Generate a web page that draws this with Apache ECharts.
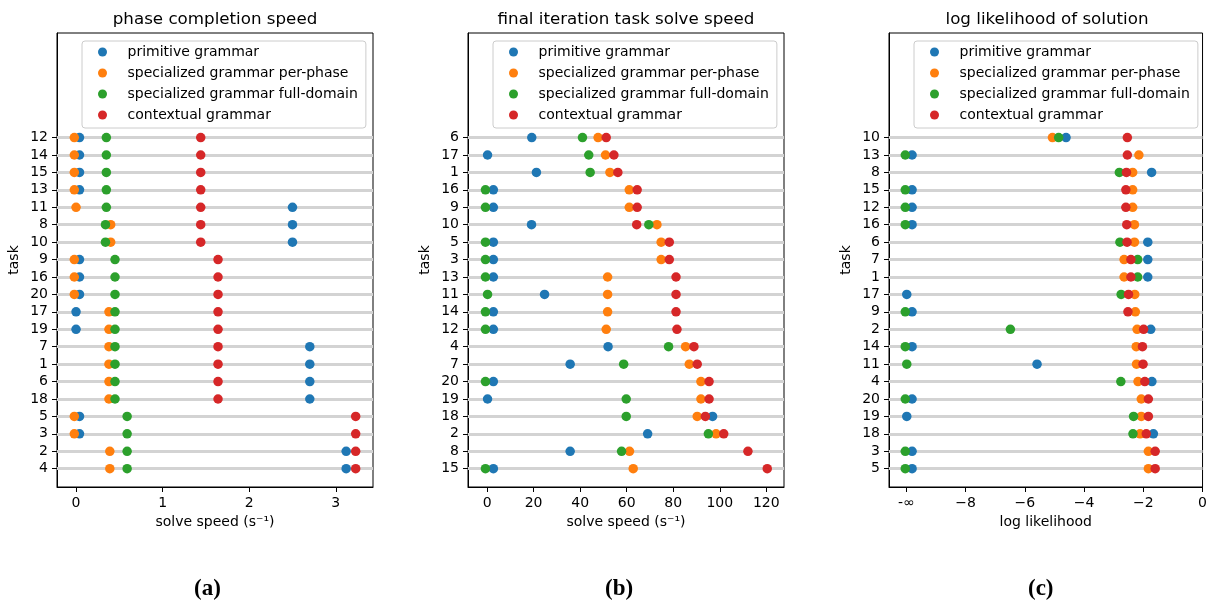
<!DOCTYPE html>
<html>
<head>
<meta charset="utf-8">
<script src="https://cdn.jsdelivr.net/npm/echarts@6/dist/echarts.min.js"></script>
<style>
html, body { margin: 0; padding: 0; background: #fff; }
#chart { width: 1210px; height: 601px; }
</style>
</head>
<body>
<div id="chart"></div>
<script>
var seriesNames = ['primitive grammar', 'specialized grammar per-phase', 'specialized grammar full-domain', 'contextual grammar'];
var colors = ['#1f77b4', '#ff7f0e', '#2ca02c', '#d62728'];

// (a) phase completion speed
var tasksA = ['12','14','15','13','11','8','10','9','16','20','17','19','7','1','6','18','5','3','2','4'];
var primitiveA  = [0.04,0.04,0.04,0.04,2.50,2.50,2.50,0.04,0.04,0.04,0.00,0.00,2.70,2.70,2.70,2.70,0.04,0.04,3.12,3.12];
var perPhaseA   = [-0.02,-0.02,-0.02,-0.02,0.00,0.40,0.40,-0.02,-0.02,-0.02,0.38,0.38,0.38,0.38,0.38,0.38,-0.02,-0.02,0.39,0.39];
var fullDomainA = [0.35,0.35,0.35,0.35,0.35,0.34,0.34,0.45,0.45,0.45,0.45,0.45,0.45,0.45,0.45,0.45,0.59,0.59,0.59,0.59];
var contextualA = [1.44,1.44,1.44,1.44,1.44,1.44,1.44,1.64,1.64,1.64,1.64,1.64,1.64,1.64,1.64,1.64,3.23,3.23,3.23,3.23];
var ticksA = [0, 1, 2, 3];

// (b) final iteration task solve speed
var tasksB = ['6','17','1','16','9','10','5','3','13','11','14','12','4','7','20','19','18','2','8','15'];
var primitiveB  = [19.2,0.2,21.2,2.7,2.7,19.1,2.7,2.7,2.7,24.7,2.7,2.7,52.0,35.7,2.7,0.2,96.9,69.0,35.7,2.7];
var perPhaseB   = [47.7,50.9,52.8,61.1,61.1,73.0,74.8,74.8,51.8,51.8,51.8,51.2,85.3,86.9,91.9,91.9,90.3,98.4,61.2,62.8];
var fullDomainB = [41.0,43.7,44.3,-0.7,-0.7,69.5,-0.7,-0.7,-0.7,0.2,-0.7,-0.7,78.0,58.7,-0.7,59.8,59.8,95.1,57.8,-0.7];
var contextualB = [51.2,54.5,56.2,64.5,64.5,64.3,78.3,78.3,81.2,81.2,81.2,81.6,88.9,90.3,95.4,95.4,93.8,101.7,112.1,120.4];
var ticksB = [0, 20, 40, 60, 80, 100, 120];

// (c) log likelihood of solution, -10 stands for -inf
var tasksC = ['10','13','8','15','12','16','6','7','1','17','9','2','14','11','4','20','19','18','3','5'];
var primitiveC  = [-4.61,-9.81,-1.72,-9.81,-9.81,-9.81,-1.85,-1.85,-1.85,-9.99,-9.81,-1.75,-9.81,-5.59,-1.71,-9.81,-9.99,-1.66,-9.81,-9.81];
var perPhaseC   = [-5.07,-2.15,-2.36,-2.36,-2.36,-2.30,-2.30,-2.65,-2.65,-2.29,-2.27,-2.21,-2.24,-2.23,-2.18,-2.07,-2.07,-2.11,-1.83,-1.83];
var fullDomainC = [-4.86,-10.04,-2.81,-10.04,-10.04,-10.04,-2.79,-2.19,-2.19,-2.75,-10.04,-6.49,-10.04,-9.99,-2.76,-10.04,-2.33,-2.35,-10.04,-10.04];
var contextualC = [-2.54,-2.54,-2.57,-2.59,-2.59,-2.56,-2.55,-2.42,-2.42,-2.50,-2.52,-1.99,-2.03,-2.01,-1.95,-1.83,-1.83,-1.90,-1.60,-1.60];
var ticksC = [-10, -8, -6, -4, -2, 0];
var ticksCLabels = ['-\u221e', '\u22128', '\u22126', '\u22124', '\u22122', '0'];

var panels = [
    {title: 'phase completion speed', tasks: tasksA, values: [primitiveA, perPhaseA, fullDomainA, contextualA],
     xmin: -0.22, xmax: 3.43, ticks: ticksA, xname: 'solve speed (s\u207b\u00b9)', left: 57, sub: '(a)', subX: 210},
    {title: 'final iteration task solve speed', tasks: tasksB, values: [primitiveB, perPhaseB, fullDomainB, contextualB],
     xmin: -8.2, xmax: 127.6, ticks: ticksB, xname: 'solve speed (s\u207b\u00b9)', left: 468, sub: '(b)', subX: 621},
    {title: 'log likelihood of solution', tasks: tasksC, values: [primitiveC, perPhaseC, fullDomainC, contextualC],
     xmin: -10.59, xmax: 0, ticks: ticksC, xname: 'log likelihood', left: 889, sub: '(c)', subX: 1044,
     labelFn: function (v) { return ticksCLabels[ticksC.indexOf(v)]; }}
];

var FONT = 'DejaVu Sans';
var W = 316, TOP = 33, H = 454;

var grid = [], xAxis = [], yAxis = [], series = [], title = [], legend = [], graphic = [];

panels.forEach(function (p, k) {
    var rows = p.tasks.map(function (t, i) { return i; });
    grid.push({left: p.left, top: TOP, width: W, height: H, show: true, borderColor: '#000', borderWidth: 1, backgroundColor: '#fff'});
    title.push({
        text: p.title, left: p.left + W / 2, top: 11, textAlign: 'center', padding: 0,
        textStyle: {fontFamily: FONT, fontSize: 16.7, fontWeight: 'normal', color: '#000'}
    });
    xAxis.push({
        type: 'value', gridIndex: k, min: p.xmin, max: p.xmax, position: 'bottom',
        name: p.xname, nameLocation: 'middle', nameGap: 28,
        nameTextStyle: {fontFamily: FONT, fontSize: 14, color: '#000'},
        axisLine: {show: true, onZero: false, lineStyle: {color: '#000', width: 1}},
        axisTick: {show: true, length: 5, lineStyle: {color: '#000'}, customValues: p.ticks},
        axisLabel: {fontFamily: FONT, fontSize: 14, color: '#000', margin: 9, customValues: p.ticks,
            formatter: p.labelFn || function (v) { return String(v); }},
        splitLine: {show: false}
    });
    yAxis.push({
        type: 'value', gridIndex: k, inverse: true, min: -6, max: 20.05, position: 'left',
        name: 'task', nameLocation: 'middle', nameGap: 36,
        nameTextStyle: {fontFamily: FONT, fontSize: 14, color: '#000'},
        axisLine: {show: true, onZero: false, lineStyle: {color: '#000', width: 1}},
        axisTick: {show: true, length: 5, lineStyle: {color: '#000'}, customValues: rows},
        axisLabel: {fontFamily: FONT, fontSize: 14, color: '#000', margin: 9, customValues: rows,
            formatter: function (v) { return p.tasks[v]; }},
        splitLine: {show: false}
    });
    // grey row lines
    series.push({
        type: 'scatter', xAxisIndex: k, yAxisIndex: k, data: [], silent: true, z: 1,
        markLine: {
            silent: true, z: 1, symbol: ['none', 'none'], label: {show: false},
            lineStyle: {color: '#d3d3d3', width: 3, type: 'solid'},
            emphasis: {disabled: true},
            data: rows.map(function (i) { return {yAxis: i}; })
        }
    });
    p.values.forEach(function (vals, j) {
        series.push({
            name: seriesNames[j], type: 'scatter', xAxisIndex: k, yAxisIndex: k,
            symbol: 'circle', symbolSize: 9.5, z: 10 + j,
            itemStyle: {color: colors[j], opacity: 1},
            data: vals.map(function (v, i) { return [v, i]; })
        });
    });
    legend.push({
        data: seriesNames, orient: 'vertical', left: p.left + 25, top: 41,
        icon: 'circle', itemWidth: 28, itemHeight: 9, itemGap: 5, selectedMode: false,
        padding: [3, 8, 5, 16], borderColor: '#cccccc', borderWidth: 1, borderRadius: 3,
        backgroundColor: 'rgba(255,255,255,0.8)',
        textStyle: {fontFamily: FONT, fontSize: 14, color: '#000', lineHeight: 16, padding: [0, 0, 0, 6]}
    });
    graphic.push({
        type: 'text', left: p.subX - 16, top: 578,
        style: {text: p.sub, font: 'bold 23px "Liberation Serif", serif', fill: '#000'}
    });
});

var myChart = echarts.init(document.getElementById('chart'));
var option = {
    animation: false,
    backgroundColor: '#fff',
    title: title,
    legend: legend,
    grid: grid,
    xAxis: xAxis,
    yAxis: yAxis,
    series: series,
    graphic: graphic
};
myChart.setOption(option);
</script>
</body>
</html>
